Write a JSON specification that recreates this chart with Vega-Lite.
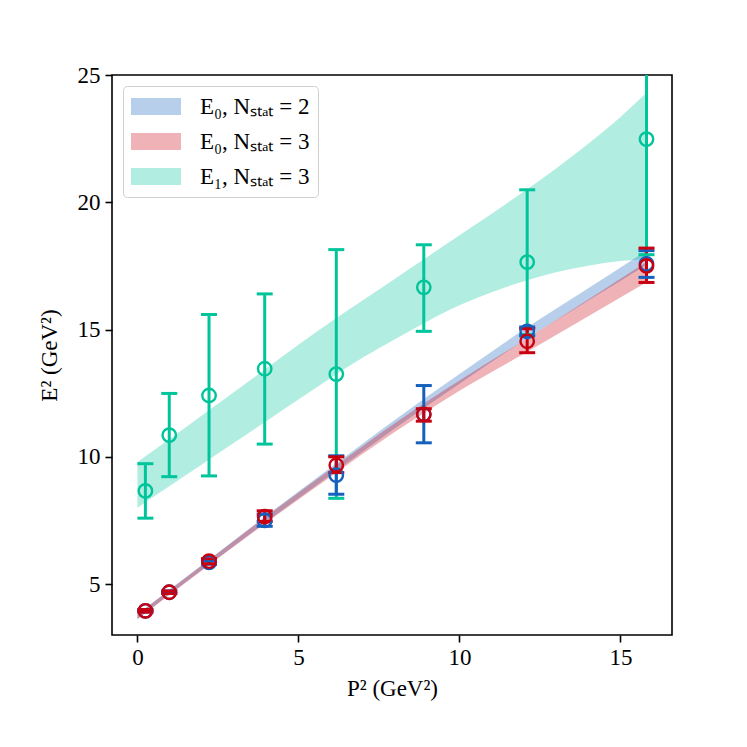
{
  "$schema": "https://vega.github.io/schema/vega-lite/v6.json",
  "description": "E^2 against P^2 with fit bands for E0 (Nstat = 2, 3) and E1 (Nstat = 3).",
  "width": 560,
  "height": 560,
  "autosize": {"type": "none"},
  "padding": {"left": 112, "top": 75, "right": 75, "bottom": 112},
  "datasets": {
    "bands": [
      {"series": "E₀, Nₛₜₐₜ = 2", "x": 0, "lo": 3.63, "hi": 3.82},
      {"series": "E₀, Nₛₜₐₜ = 2", "x": 2, "lo": 5.55, "hi": 5.75},
      {"series": "E₀, Nₛₜₐₜ = 2", "x": 4, "lo": 7.44, "hi": 7.69},
      {"series": "E₀, Nₛₜₐₜ = 2", "x": 6, "lo": 9.29, "hi": 9.58},
      {"series": "E₀, Nₛₜₐₜ = 2", "x": 8, "lo": 11.12, "hi": 11.46},
      {"series": "E₀, Nₛₜₐₜ = 2", "x": 10, "lo": 12.87, "hi": 13.25},
      {"series": "E₀, Nₛₜₐₜ = 2", "x": 12, "lo": 14.57, "hi": 15.0},
      {"series": "E₀, Nₛₜₐₜ = 2", "x": 14, "lo": 16.14, "hi": 16.62},
      {"series": "E₀, Nₛₜₐₜ = 2", "x": 15.808, "lo": 17.55, "hi": 18.1},
      {"series": "E₀, Nₛₜₐₜ = 3", "x": 0, "lo": 3.62, "hi": 3.81},
      {"series": "E₀, Nₛₜₐₜ = 3", "x": 2, "lo": 5.53, "hi": 5.73},
      {"series": "E₀, Nₛₜₐₜ = 3", "x": 4, "lo": 7.41, "hi": 7.66},
      {"series": "E₀, Nₛₜₐₜ = 3", "x": 6, "lo": 9.22, "hi": 9.51},
      {"series": "E₀, Nₛₜₐₜ = 3", "x": 8, "lo": 10.98, "hi": 11.33},
      {"series": "E₀, Nₛₜₐₜ = 3", "x": 10, "lo": 12.6, "hi": 13.0},
      {"series": "E₀, Nₛₜₐₜ = 3", "x": 12, "lo": 14.05, "hi": 14.57},
      {"series": "E₀, Nₛₜₐₜ = 3", "x": 14, "lo": 15.52, "hi": 16.18},
      {"series": "E₀, Nₛₜₐₜ = 3", "x": 15.808, "lo": 16.86, "hi": 17.65},
      {"series": "E₁, Nₛₜₐₜ = 3", "x": 0, "lo": 8.0, "hi": 9.8},
      {"series": "E₁, Nₛₜₐₜ = 3", "x": 1, "lo": 8.85, "hi": 10.7},
      {"series": "E₁, Nₛₜₐₜ = 3", "x": 2, "lo": 9.7, "hi": 11.62},
      {"series": "E₁, Nₛₜₐₜ = 3", "x": 3, "lo": 10.55, "hi": 12.55},
      {"series": "E₁, Nₛₜₐₜ = 3", "x": 4, "lo": 11.4, "hi": 13.47},
      {"series": "E₁, Nₛₜₐₜ = 3", "x": 5, "lo": 12.25, "hi": 14.4},
      {"series": "E₁, Nₛₜₐₜ = 3", "x": 6, "lo": 13.1, "hi": 15.3},
      {"series": "E₁, Nₛₜₐₜ = 3", "x": 7, "lo": 13.9, "hi": 16.15},
      {"series": "E₁, Nₛₜₐₜ = 3", "x": 8, "lo": 14.62, "hi": 17.0},
      {"series": "E₁, Nₛₜₐₜ = 3", "x": 9, "lo": 15.32, "hi": 17.85},
      {"series": "E₁, Nₛₜₐₜ = 3", "x": 10, "lo": 15.95, "hi": 18.7},
      {"series": "E₁, Nₛₜₐₜ = 3", "x": 11, "lo": 16.47, "hi": 19.55},
      {"series": "E₁, Nₛₜₐₜ = 3", "x": 12, "lo": 16.9, "hi": 20.42},
      {"series": "E₁, Nₛₜₐₜ = 3", "x": 13, "lo": 17.25, "hi": 21.33},
      {"series": "E₁, Nₛₜₐₜ = 3", "x": 14, "lo": 17.51, "hi": 22.3},
      {"series": "E₁, Nₛₜₐₜ = 3", "x": 15, "lo": 17.69, "hi": 23.35},
      {"series": "E₁, Nₛₜₐₜ = 3", "x": 15.808, "lo": 17.76, "hi": 24.3}
    ],
    "points": [
      {"series": "E₁, Nₛₜₐₜ = 3", "x": 0.247, "y": 8.66, "lo": 7.59, "hi": 9.73},
      {"series": "E₁, Nₛₜₐₜ = 3", "x": 0.988, "y": 10.85, "lo": 9.22, "hi": 12.49},
      {"series": "E₁, Nₛₜₐₜ = 3", "x": 2.223, "y": 12.41, "lo": 9.25, "hi": 15.59},
      {"series": "E₁, Nₛₜₐₜ = 3", "x": 3.952, "y": 13.46, "lo": 10.5, "hi": 16.4},
      {"series": "E₁, Nₛₜₐₜ = 3", "x": 6.175, "y": 13.25, "lo": 8.37, "hi": 18.14},
      {"series": "E₁, Nₛₜₐₜ = 3", "x": 8.892, "y": 16.66, "lo": 14.93, "hi": 18.33},
      {"series": "E₁, Nₛₜₐₜ = 3", "x": 12.103, "y": 17.65, "lo": 14.8, "hi": 20.49},
      {"series": "E₁, Nₛₜₐₜ = 3", "x": 15.808, "y": 22.48, "lo": 17.94, "hi": 27.0},
      {"series": "E₀, Nₛₜₐₜ = 2", "x": 0.247, "y": 3.95, "lo": 3.9, "hi": 4.0},
      {"series": "E₀, Nₛₜₐₜ = 2", "x": 0.988, "y": 4.68, "lo": 4.63, "hi": 4.73},
      {"series": "E₀, Nₛₜₐₜ = 2", "x": 2.223, "y": 5.85, "lo": 5.78, "hi": 5.92},
      {"series": "E₀, Nₛₜₐₜ = 2", "x": 3.952, "y": 7.5, "lo": 7.27, "hi": 7.75},
      {"series": "E₀, Nₛₜₐₜ = 2", "x": 6.175, "y": 9.28, "lo": 8.53, "hi": 10.04},
      {"series": "E₀, Nₛₜₐₜ = 2", "x": 8.892, "y": 11.67, "lo": 10.55, "hi": 12.8},
      {"series": "E₀, Nₛₜₐₜ = 2", "x": 12.103, "y": 14.93, "lo": 14.75, "hi": 15.1},
      {"series": "E₀, Nₛₜₐₜ = 2", "x": 15.808, "y": 17.58, "lo": 17.05, "hi": 18.1},
      {"series": "E₀, Nₛₜₐₜ = 3", "x": 0.247, "y": 3.95, "lo": 3.9, "hi": 4.0},
      {"series": "E₀, Nₛₜₐₜ = 3", "x": 0.988, "y": 4.68, "lo": 4.63, "hi": 4.73},
      {"series": "E₀, Nₛₜₐₜ = 3", "x": 2.223, "y": 5.9, "lo": 5.8, "hi": 6.0},
      {"series": "E₀, Nₛₜₐₜ = 3", "x": 3.952, "y": 7.65, "lo": 7.46, "hi": 7.88},
      {"series": "E₀, Nₛₜₐₜ = 3", "x": 6.175, "y": 9.67, "lo": 9.38, "hi": 10.0},
      {"series": "E₀, Nₛₜₐₜ = 3", "x": 8.892, "y": 11.67, "lo": 11.4, "hi": 11.89},
      {"series": "E₀, Nₛₜₐₜ = 3", "x": 12.103, "y": 14.54, "lo": 14.09, "hi": 15.03},
      {"series": "E₀, Nₛₜₐₜ = 3", "x": 15.808, "y": 17.5, "lo": 16.85, "hi": 18.2}
    ]
  },
  "layer": [
    {
      "data": {"name": "bands"},
      "mark": {"type": "area", "opacity": 0.3, "interpolate": "monotone", "clip": true},
      "encoding": {
        "x": {"field": "x", "type": "quantitative"},
        "y": {"field": "lo", "type": "quantitative"},
        "y2": {"field": "hi"},
        "color": {
          "field": "series",
          "type": "nominal",
          "scale": {
            "domain": ["E₀, Nₛₜₐₜ = 2", "E₀, Nₛₜₐₜ = 3", "E₁, Nₛₜₐₜ = 3"],
            "range": ["#1560BD", "#C8000F", "#00C49A"]
          },
          "legend": {
            "title": null,
            "orient": "top-left",
            "offset": 11,
            "symbolType": "M-1,-0.68L3,-0.68L3,0.68L-1,0.68Z",
            "symbolSize": 625,
            "symbolOpacity": 0.3,
            "symbolStrokeWidth": 0,
            "labelFont": "Liberation Serif",
            "labelFontSize": 23,
            "labelColor": "black",
            "labelOffset": 44,
            "rowPadding": 10,
            "padding": 8,
            "strokeColor": "#d0d0d0",
            "cornerRadius": 4,
            "fillColor": "white"
          }
        }
      }
    },
    {
      "data": {"name": "points"},
      "mark": {"type": "rule", "strokeWidth": 3, "clip": true},
      "encoding": {
        "x": {"field": "x", "type": "quantitative"},
        "y": {"field": "lo", "type": "quantitative"},
        "y2": {"field": "hi"},
        "stroke": {
          "field": "series",
          "type": "nominal",
          "scale": {
            "domain": ["E₀, Nₛₜₐₜ = 2", "E₀, Nₛₜₐₜ = 3", "E₁, Nₛₜₐₜ = 3"],
            "range": ["#1560BD", "#C8000F", "#00C49A"]
          },
          "legend": null
        }
      }
    },
    {
      "data": {"name": "points"},
      "mark": {"type": "point", "shape": "stroke", "size": 256, "strokeWidth": 3, "opacity": 1, "clip": true},
      "encoding": {
        "x": {"field": "x", "type": "quantitative"},
        "y": {"field": "lo", "type": "quantitative"},
        "stroke": {"field": "series", "type": "nominal", "legend": null}
      }
    },
    {
      "data": {"name": "points"},
      "mark": {"type": "point", "shape": "stroke", "size": 256, "strokeWidth": 3, "opacity": 1, "clip": true},
      "encoding": {
        "x": {"field": "x", "type": "quantitative"},
        "y": {"field": "hi", "type": "quantitative"},
        "stroke": {"field": "series", "type": "nominal", "legend": null}
      }
    },
    {
      "data": {"name": "points"},
      "mark": {"type": "point", "shape": "circle", "filled": false, "size": 180, "strokeWidth": 2.4, "opacity": 1},
      "encoding": {
        "x": {
          "field": "x",
          "type": "quantitative",
          "scale": {"domain": [-0.79, 16.6], "nice": false, "zero": false},
          "axis": {"values": [0, 5, 10, 15], "format": "d", "title": "P² (GeV²)", "labelPadding": 4, "titlePadding": 8}
        },
        "y": {
          "field": "y",
          "type": "quantitative",
          "scale": {"domain": [3, 25], "nice": false, "zero": false},
          "axis": {"values": [5, 10, 15, 20, 25], "format": "d", "title": "E² (GeV²)", "labelPadding": 5, "titlePadding": 16}
        },
        "stroke": {"field": "series", "type": "nominal", "legend": null}
      }
    }
  ],
  "config": {
    "view": {"stroke": "black", "strokeWidth": 1.6},
    "axis": {
      "grid": false,
      "domain": false,
      "ticks": true,
      "tickSize": 7,
      "tickWidth": 1.6,
      "tickColor": "black",
      "labelFont": "Liberation Serif",
      "labelFontSize": 23,
      "labelColor": "black",
      "titleFont": "Liberation Serif",
      "titleFontSize": 23,
      "titleFontWeight": "normal",
      "titleColor": "black"
    }
  }
}
